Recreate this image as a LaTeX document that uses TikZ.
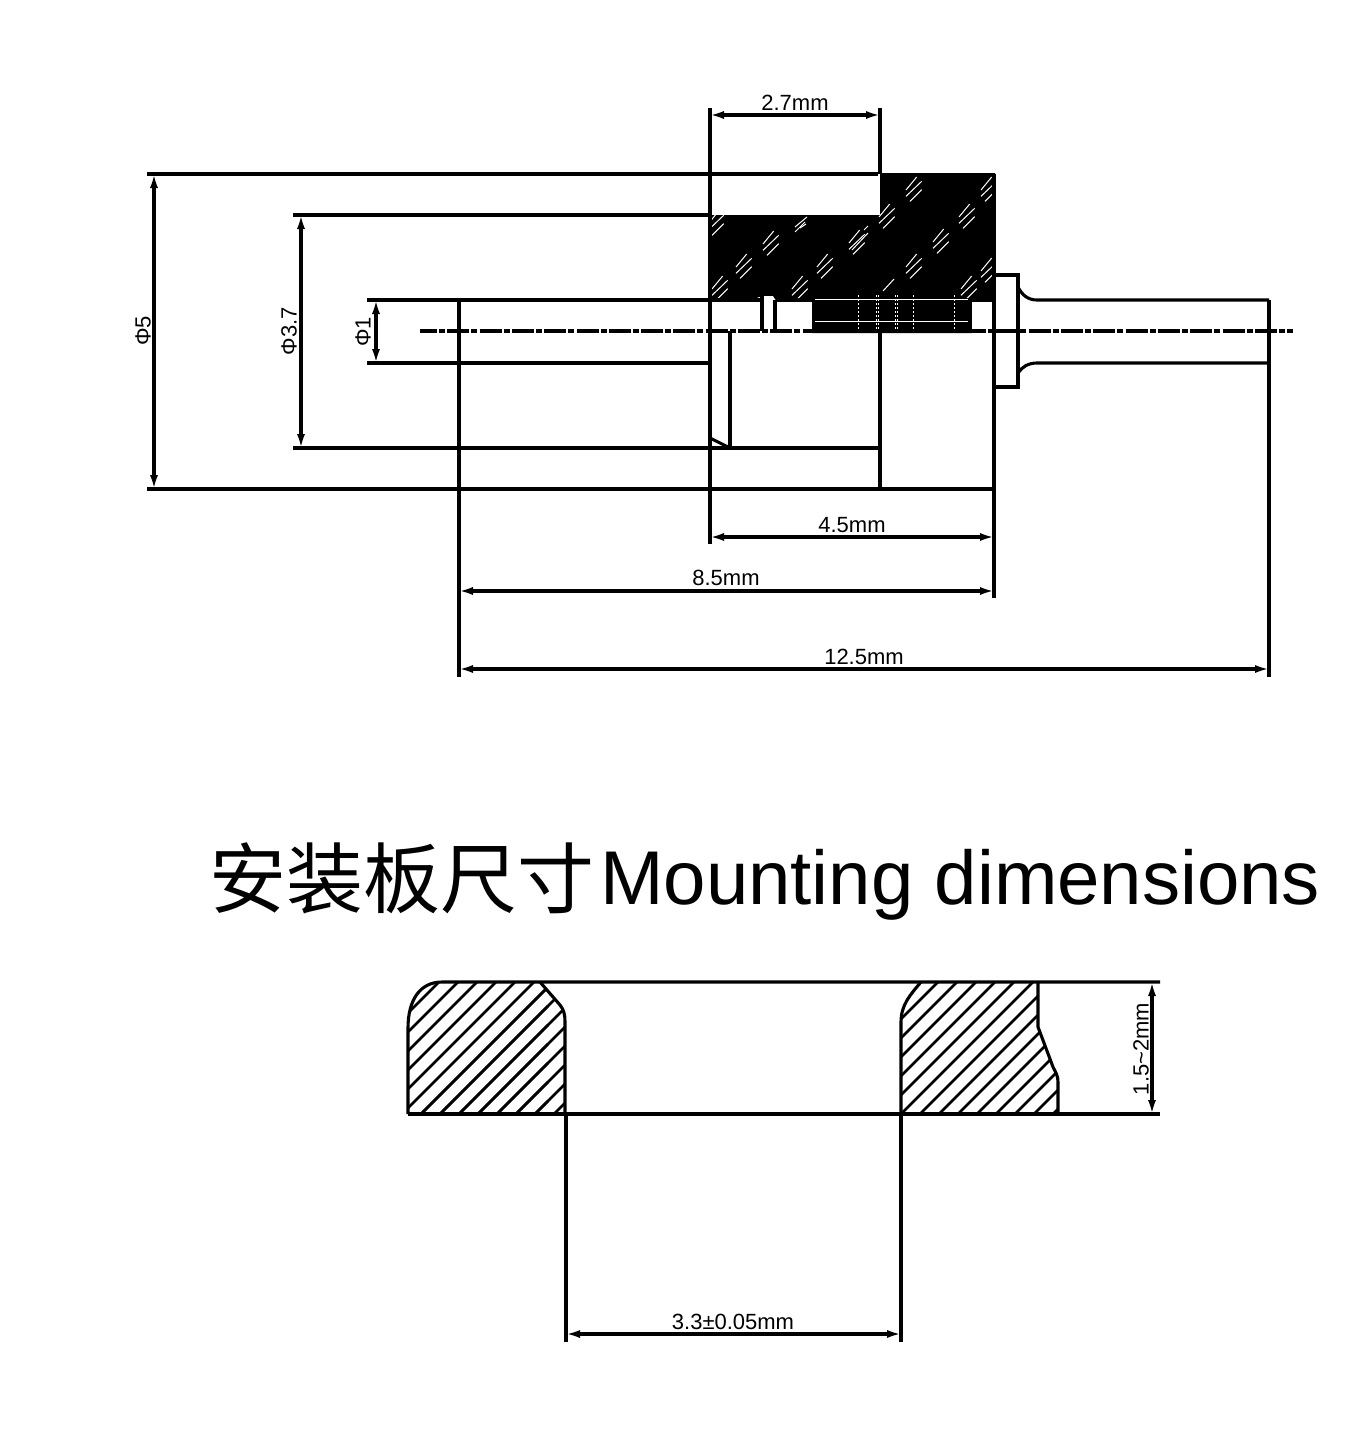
\documentclass[tikz,border=0pt]{standalone}
\usepackage{fontspec}
\setmainfont{Liberation Sans}
\newfontfamily\cjkfont{Noto Sans CJK SC}
\usetikzlibrary{arrows.meta}
\tikzset{
  ln/.style={line width=3.1pt,black},
  dimline/.style={line width=3.1pt,black,{Latex[length=15pt,width=8pt]}-{Latex[length=15pt,width=8pt]},shorten <=-1pt,shorten >=-1pt},
  lab/.style={inner sep=0pt,font=\fontsize{22}{24}\selectfont},
  hatchw/.style={white,line width=1pt},
  hatchk/.style={black,line width=2.7pt},
  centerln/.style={line width=3.2pt,black,dash pattern=on 22pt off 2pt on 6pt off 2.3pt,dash phase=5pt}
}
\newcommand{\hcl}[2]{%
  \draw[hatchw] (#1-8,#2+1)--(#1+2.7,#2-12);
  \draw[hatchw] (#1-8,#2+7.3)--(#1+7.7,#2-7.7);
  \draw[hatchw] (#1-4,#2+12.3)--(#1+7.7,#2+0.7);}
\begin{document}
\begin{tikzpicture}[x=1pt,y=-1pt]
\useasboundingbox (0,0) rectangle (1369,1441);
\fill[white] (0,0) rectangle (1369,1441);
% black sectioned block
\fill[black] (710,215)--(880,215)--(880,173)--(995,173)--(995,302)--(972,302)--(972,333)--(812,333)--(812,302)--(777,302)--(773,296)--(762,296)--(748,301)--(710,301)--cycle;
\begin{scope}
\clip (710,215)--(880,215)--(880,173)--(995,173)--(995,298)--(710,298)--cycle;
\foreach \cx/\cy in {914/189,989/189,887/216,967/216,771/243,857/242,941/241,744/266,825/266,914/266,989/270,720/288,800/288,969/288,716/223}{\hcl{\cx}{\cy}}
\draw[hatchw] (795,227)--(807,217);
\draw[hatchw] (795,232)--(805,222);
\draw[hatchw] (800,228)--(806,224);
\draw[hatchw] (864,230)--(868,226);
\draw[hatchw] (852,250)--(868,233);
\draw[hatchw] (883,291)--(894,279);
\end{scope}
\draw[white,line width=1pt] (815,299.5)--(968,299.5);
\draw[white,line width=1pt] (815,321.5)--(968,321.5);
\foreach \dx in {858,876,878.5,895,897.5,913,954}{
  \draw[white,line width=1pt,dash pattern=on 1.5pt off 2.5pt] (\dx,295)--(\dx,330);}
% cut-outs in the pin region
\fill[white] (764,296) rectangle (773,331);
\fill[white] (777,302) rectangle (812,331);
\fill[white] (972,302) rectangle (992,331);
% body outline
\draw[ln] (762,296)--(762,331);
\draw[ln] (775,300)--(775,331);
\draw[ln] (367,300)--(760,300);
\draw[ln] (367,363)--(710,363);
\draw[ln] (459,300)--(459,677);
\draw[line width=4pt] (459,300)--(459,363);
\draw[ln] (710,108)--(710,544);
\draw[ln] (730,331)--(730,448);
\draw[ln] (880,108)--(880,174);
\draw[ln] (880,331)--(880,489);
\draw[ln] (994,174)--(994,598);
\draw[ln] (710,438)--(730,448);
\draw[line width=3.6pt] (730,448)--(880,448);
\draw[ln] (293,448)--(730,448);
\draw[ln] (147,489)--(994,489);
\draw[ln] (147,174)--(878,174);
\draw[ln] (293,215)--(710,215);
% right flange and pin
\draw[ln] (994,275)--(1018,275)--(1018,387)--(994,387);
\draw[ln] (1018,287) .. controls (1022,295) and (1028,300) .. (1037,300)--(1269,300);
\draw[ln] (1018,373) .. controls (1022,367) and (1028,363) .. (1037,363)--(1269,363);
\draw[ln] (1269,300)--(1269,677);
% centre line
\draw[centerln] (420,331)--(1293,331);
% dimensions
\draw[dimline] (710,115)--(880,115);
\node[lab] (d27) at (795,103) {2.7mm};
\draw[dimline] (710,537)--(994,537);
\node[lab] (d45) at (852,525) {4.5mm};
\draw[dimline] (459,591)--(994,591);
\node[lab] (d85) at (726,578) {8.5mm};
\draw[dimline] (459,669)--(1269,669);
\node[lab] (d125) at (864,657) {12.5mm};
\draw[dimline] (154,174)--(154,489);
\node[lab,rotate=90] (p5) at (143,331) {Φ5};
\draw[dimline] (301,215)--(301,448);
\node[lab,rotate=90] (p37) at (289,331) {Φ3.7};
\draw[dimline] (376,300)--(376,363);
\node[lab,rotate=90] (p1) at (363,332) {Φ1};
% title
\node[inner sep=0pt,anchor=west,font=\cjkfont\fontsize{77}{80}\selectfont] (ttlcn) at (209,878) {安装板尺寸};
\node[inner sep=0pt,anchor=base west,font=\fontsize{76.2}{80}\selectfont] (ttlen) at (600,904) {Mounting dimensions};
% mounting section, hatching
\begin{scope}
\clip (408,1114)--(408,1028) .. controls (408,1000) and (420,982) .. (442,982)--(540,982)--(560,1005) .. controls (564,1010) and (565,1015) .. (565,1022)--(565,1114)--cycle;
\foreach \c in {-4,...,14}{\draw[hatchk] (408,1013+\c*19)--(408+140,1013+\c*19-140);}
\foreach \c in {0,...,9}{\draw[hatchk] (408+\c*19,1127)--(408+\c*19+170,957);}
\end{scope}
\begin{scope}
\clip (901,1114)--(901,1022) .. controls (901,1005) and (910,995) .. (921,982)--(1038,982)--(1038,1027)--(1053,1067) .. controls (1056,1073) and (1058,1076) .. (1058,1082)--(1058,1114)--cycle;
\foreach \c in {-2,...,18}{\draw[hatchk] (880,1040+\c*19)--(1080,840+\c*19);}
\end{scope}
\draw[ln] (408,1114)--(408,1028) .. controls (408,1000) and (420,982) .. (442,982)--(1160,982);
\draw[ln] (540,982)--(560,1005) .. controls (564,1010) and (565,1015) .. (565,1022)--(565,1114);
\draw[ln] (408,1114)--(1160,1114);
\draw[ln] (901,1114)--(901,1022) .. controls (901,1005) and (910,995) .. (921,982);
\draw[ln] (1038,982)--(1038,1027)--(1053,1067) .. controls (1056,1073) and (1058,1076) .. (1058,1082)--(1058,1114);
\draw[ln] (566,1114)--(566,1342);
\draw[ln] (901,1114)--(901,1342);
\draw[dimline] (1152,982)--(1152,1114);
\node[lab,rotate=90] (d15) at (1141,1049) {1.5\textasciitilde 2mm};
\draw[dimline] (566,1334)--(901,1334);
\node[lab] (d33) at (733,1322) {3.3±0.05mm};
\end{tikzpicture}
\end{document}
